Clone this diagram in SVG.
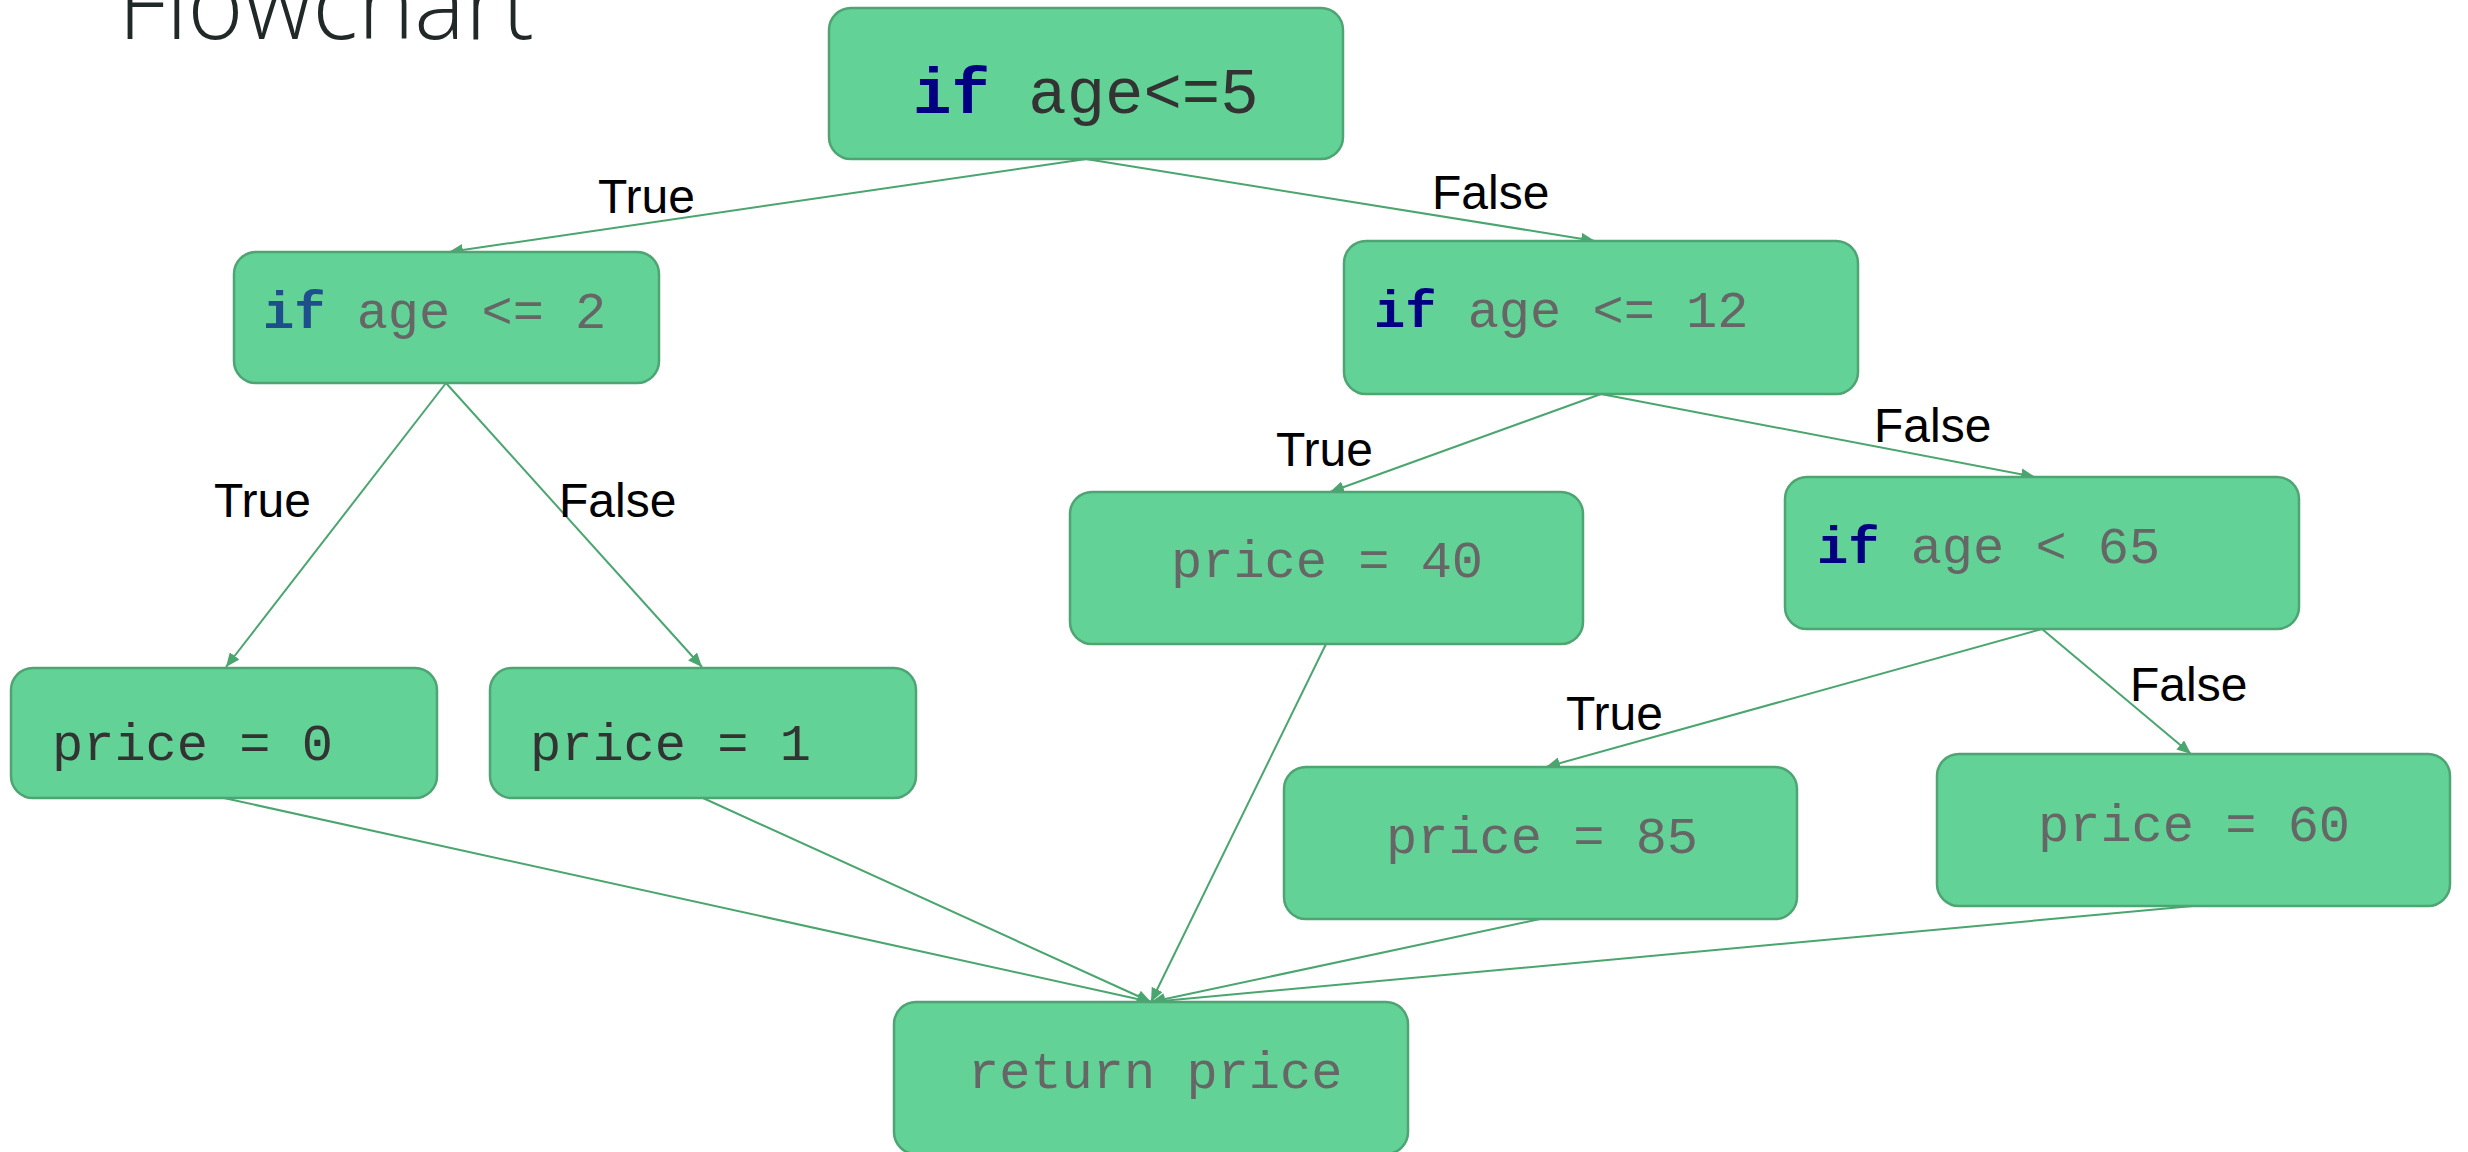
<svg xmlns="http://www.w3.org/2000/svg" width="2468" height="1152" viewBox="0 0 2468 1152">
  <defs>
    <marker id="arrow" markerUnits="userSpaceOnUse" markerWidth="16" markerHeight="12" refX="14" refY="6" orient="auto">
      <path d="M0,0 L14,6 L0,12 z" fill="#4aa56f"/>
    </marker>
  </defs>
  <style>
    .box { fill: #63d297; stroke: #4ea573; stroke-width: 2.5; }
    .code { font-family: "Liberation Mono", "DejaVu Sans Mono", monospace; font-size: 52px; fill: #666666; }
    .big { font-size: 64px; }
    .dark { fill: #333333; }
    .kw { font-weight: bold; fill: #000080; }
    .kw2 { font-weight: bold; fill: #1f4e8c; }
    .edge { stroke: #4aa56f; stroke-width: 2; fill: none; marker-end: url(#arrow); }
    .lbl { font-family: "Liberation Sans", Arial, sans-serif; font-size: 48px; fill: #000000; }
    .title { font-family: "Open Sans", "Liberation Sans", sans-serif; font-weight: 300; font-size: 100px; fill: #212828; }
  </style>

  <rect width="2468" height="1152" fill="#ffffff"/>

  <text class="title" x="118" y="39" textLength="416" lengthAdjust="spacingAndGlyphs">Flowchart</text>

  <!-- connectors -->
  <g id="connectors">
    <line class="edge" x1="1086" y1="159" x2="449" y2="252"/>
    <line class="edge" x1="1086" y1="159" x2="1595" y2="241"/>
    <line class="edge" x1="446" y1="383" x2="226" y2="667"/>
    <line class="edge" x1="446" y1="383" x2="702" y2="667"/>
    <line class="edge" x1="1601" y1="394" x2="1330" y2="492"/>
    <line class="edge" x1="1601" y1="394" x2="2035" y2="477"/>
    <line class="edge" x1="2042" y1="629" x2="1546" y2="767"/>
    <line class="edge" x1="2042" y1="629" x2="2191" y2="754"/>
    <line class="edge" x1="224" y1="798" x2="1151" y2="1002"/>
    <line class="edge" x1="703" y1="798" x2="1151" y2="1002"/>
    <line class="edge" x1="1326" y1="644" x2="1151" y2="1002"/>
    <line class="edge" x1="1540" y1="919" x2="1151" y2="1002"/>
    <line class="edge" x1="2193" y1="906" x2="1151" y2="1002"/>
    <text class="lbl" x="598" y="213">True</text>
    <text class="lbl" x="1432" y="209">False</text>
    <text class="lbl" x="214" y="517">True</text>
    <text class="lbl" x="559" y="517">False</text>
    <text class="lbl" x="1276" y="466">True</text>
    <text class="lbl" x="1874" y="442">False</text>
    <text class="lbl" x="1566" y="730">True</text>
    <text class="lbl" x="2130" y="701">False</text>
  </g>

  <!-- nodes -->
  <g id="n-age5">
    <rect class="box" x="829" y="8" width="514" height="151" rx="22"/>
    <text class="code big dark" x="913" y="113" xml:space="preserve"><tspan class="kw">if</tspan> age&lt;=5</text>
  </g>
  <g id="n-age2">
    <rect class="box" x="234" y="252" width="425" height="131" rx="22"/>
    <text class="code" x="263" y="328" xml:space="preserve"><tspan class="kw2">if</tspan> age &lt;= 2</text>
  </g>
  <g id="n-age12">
    <rect class="box" x="1344" y="241" width="514" height="153" rx="22"/>
    <text class="code" x="1374" y="327" xml:space="preserve"><tspan class="kw">if</tspan> age &lt;= 12</text>
  </g>
  <g id="n-price0">
    <rect class="box" x="11" y="668" width="426" height="130" rx="22"/>
    <text class="code dark" x="52" y="760">price = 0</text>
  </g>
  <g id="n-price1">
    <rect class="box" x="490" y="668" width="426" height="130" rx="22"/>
    <text class="code dark" x="530" y="760">price = 1</text>
  </g>
  <g id="n-price40">
    <rect class="box" x="1070" y="492" width="513" height="152" rx="22"/>
    <text class="code" x="1171" y="577">price = 40</text>
  </g>
  <g id="n-age65">
    <rect class="box" x="1785" y="477" width="514" height="152" rx="22"/>
    <text class="code" x="1817" y="563" xml:space="preserve"><tspan class="kw">if</tspan> age &lt; 65</text>
  </g>
  <g id="n-price85">
    <rect class="box" x="1284" y="767" width="513" height="152" rx="22"/>
    <text class="code" x="1386" y="853">price = 85</text>
  </g>
  <g id="n-price60">
    <rect class="box" x="1937" y="754" width="513" height="152" rx="22"/>
    <text class="code" x="2038" y="841">price = 60</text>
  </g>
  <g id="n-return">
    <rect class="box" x="894" y="1002" width="514" height="152" rx="22"/>
    <text class="code" x="968" y="1088">return price</text>
  </g>
</svg>
